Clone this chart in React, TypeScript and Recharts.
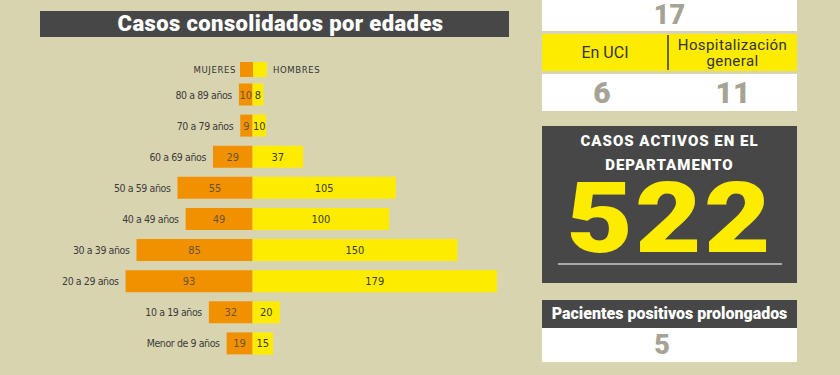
import { BarChart, Bar, XAxis, YAxis, LabelList } from 'recharts';

const ageGroups = [
  '80 a 89 años',
  '70 a 79 años',
  '60 a 69 años',
  '50 a 59 años',
  '40 a 49 años',
  '30 a 39 años',
  '20 a 29 años',
  '10 a 19 años',
  'Menor de 9 años',
];
const mujeres = [10, 9, 29, 55, 49, 85, 93, 32, 19];
const hombres = [8, 10, 37, 105, 100, 150, 179, 20, 15];

const hospitalizados = 17;
const enUci = 6;
const hospGeneral = 11;
const casosActivos = 522;
const prolongados = 5;

const BG = '#d9d4b0';
const ORANGE = '#f19100';
const YELLOW = '#fdec00';
const DARK = '#474747';
const GRAY_NUM = '#a6a394';
const SANS = 'Roboto, "DejaVu Sans", sans-serif';
const NARROW = '"Liberation Sans Narrow", "DejaVu Sans Condensed", "Liberation Sans", sans-serif';

const rows = ageGroups.map((age, i) => ({
  age,
  mujeres: -mujeres[i],
  hombres: hombres[i],
  m: mujeres[i],
}));

function AgeLabel(props: any) {
  const { x, y, width, height, value } = props;
  const left = Math.min(x, x + width);
  return (
    <text
      x={left - 7}
      y={y + height / 2}
      textAnchor="end"
      dominantBaseline="central"
      fontFamily={NARROW}
      fontSize={10.5}
      letterSpacing={-0.4}
      fill="#3b3b3b"
    >
      {value}
    </text>
  );
}

function ValueLabel(color: string) {
  return (props: any) => {
    const { x, y, width, height, value } = props;
    return (
      <text
        x={x + width / 2}
        y={y + height / 2 + 0.5}
        textAnchor="middle"
        dominantBaseline="central"
        fontFamily={NARROW}
        fontSize={11}
        fill={color}
      >
        {value}
      </text>
    );
  };
}

const abs = (l: number, t: number, w: number, h: number) => ({
  position: 'absolute' as const,
  left: l,
  top: t,
  width: w,
  height: h,
});

export default function App() {
  return (
    <div style={{ ...abs(0, 0, 840, 375), background: BG, overflow: 'hidden', fontFamily: SANS }}>
      {/* title */}
      <div
        style={{
          ...abs(40, 11, 469, 26),
          background: DARK,
          color: '#fff',
          fontWeight: 900,
          fontSize: 22,
          letterSpacing: 0.4,
          lineHeight: '26px',
          textAlign: 'center',
          boxSizing: 'border-box',
          paddingLeft: 12,
        }}
      >
        Casos consolidados por edades
      </div>

      {/* legend */}
      <div style={{ ...abs(150, 62, 200, 15), fontFamily: NARROW, fontSize: 9.5, color: '#333', letterSpacing: 0.6 }}>
        <span style={{ position: 'absolute', right: 114, top: 2, whiteSpace: 'nowrap' }}>MUJERES</span>
        <span style={{ position: 'absolute', left: 90, top: 0, width: 13, height: 15, background: ORANGE }} />
        <span style={{ position: 'absolute', left: 103, top: 0, width: 14, height: 15, background: YELLOW }} />
        <span style={{ position: 'absolute', left: 123, top: 2, whiteSpace: 'nowrap' }}>HOMBRES</span>
      </div>

      <div style={abs(0, 0, 530, 375)}>
        <BarChart
          width={530}
          height={375}
          data={rows}
          layout="vertical"
          stackOffset="sign"
          barSize={22}
          margin={{ top: 78.5, bottom: 16.5, left: 116, right: 18 }}
        >
          <XAxis type="number" hide domain={[-100, 190]} />
          <YAxis type="category" dataKey="age" hide />
          <Bar dataKey="mujeres" stackId="a" fill={ORANGE} isAnimationActive={false}>
            <LabelList dataKey="m" content={ValueLabel('#6e5330')} />
            <LabelList dataKey="age" content={AgeLabel} />
          </Bar>
          <Bar dataKey="hombres" stackId="a" fill={YELLOW} isAnimationActive={false}>
            <LabelList dataKey="hombres" content={ValueLabel('#3e3c26')} />
          </Bar>
        </BarChart>
      </div>

      {/* right panels */}
      <div style={{ ...abs(542, 0, 255, 31), background: '#fff', textAlign: 'center', color: GRAY_NUM, fontWeight: 900, fontSize: 27, lineHeight: '31px' }}>
        {hospitalizados}
      </div>
      <div style={{ ...abs(542, 34, 255, 37), background: YELLOW, color: '#333' }}>
        <div style={{ ...abs(0, 0, 126, 37), textAlign: 'center', fontSize: 16, lineHeight: '37px' }}>En UCI</div>
        <div style={{ ...abs(125, 1, 1.5, 35), background: '#6b6200' }} />
        <div style={{ ...abs(126, 4, 129, 15), textAlign: 'center', fontSize: 15, lineHeight: '15px', letterSpacing: 0.4 }}>
          Hospitalización
        </div>
        <div style={{ ...abs(126, 20, 129, 15), textAlign: 'center', fontSize: 15, lineHeight: '15px', letterSpacing: 0.4 }}>
          general
        </div>
      </div>
      <div style={{ ...abs(542, 74, 255, 37), background: '#fff', color: GRAY_NUM, fontWeight: 900, fontSize: 30, lineHeight: '37px' }}>
        <div style={{ ...abs(0, 0, 120, 37), textAlign: 'center' }}>{enUci}</div>
        <div style={{ ...abs(131, 0, 120, 37), textAlign: 'center' }}>{hospGeneral}</div>
      </div>

      <div style={{ ...abs(542, 126, 255, 157), background: DARK, textAlign: 'center' }}>
        <div style={{ ...abs(0, 6, 255, 18), color: '#fff', fontWeight: 900, fontSize: 15, lineHeight: '18px', letterSpacing: 1 }}>
          CASOS ACTIVOS EN EL
        </div>
        <div style={{ ...abs(0, 30, 255, 18), color: '#fff', fontWeight: 900, fontSize: 15, lineHeight: '18px', letterSpacing: 1 }}>
          DEPARTAMENTO
        </div>
        <div
          style={{
            ...abs(0, 57, 255, 70),
            color: YELLOW,
            fontWeight: 900,
            fontSize: 99,
            lineHeight: '70px',
            letterSpacing: 2,
            transform: 'scaleX(1.16)',
            transformOrigin: '50% 50%',
          }}
        >
          {casosActivos}
        </div>
        <div style={{ ...abs(16, 137, 224, 2), background: '#a9a9a9' }} />
      </div>

      <div style={{ ...abs(542, 300, 255, 28), background: DARK, color: '#fff', fontWeight: 900, fontSize: 16, lineHeight: '28px', textAlign: 'center', whiteSpace: 'nowrap' }}>
        Pacientes positivos prolongados
      </div>
      <div style={{ ...abs(542, 328, 255, 34), background: '#fff', color: GRAY_NUM, fontWeight: 900, fontSize: 27, lineHeight: '34px' }}>
        <div style={{ ...abs(0, 0, 240, 34), textAlign: 'center' }}>{prolongados}</div>
      </div>
    </div>
  );
}
